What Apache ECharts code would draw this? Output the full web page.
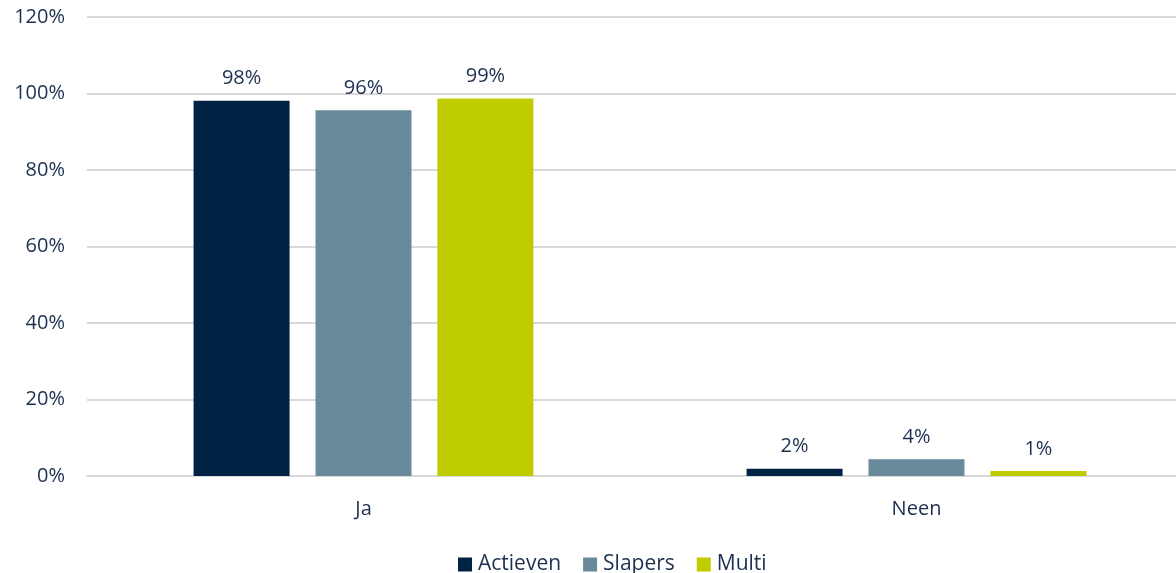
<!DOCTYPE html>
<html><head><meta charset="utf-8">
<script src="https://cdn.jsdelivr.net/npm/echarts@6/dist/echarts.min.js"></script>
<style>html,body{margin:0;padding:0;background:#fff;overflow:hidden}#c{width:1193px;height:573px}</style>
</head><body><div id="c"></div>
<script>
const categories = ['Ja', 'Neen'];
const seriesNames = ['Actieven', 'Slapers', 'Multi'];
const actieven = [98.1, 1.9];
const slapers = [95.6, 4.4];
const multi = [98.7, 1.3];
const yTicks = [0, 20, 40, 60, 80, 100, 120];

const colors = ['#002345', '#688a9a', '#bfcd00'];
const textColor = '#1c3050';
const font = 'Open Sans';
const data = [actieven, slapers, multi];

const chart = echarts.init(document.getElementById('c'));
chart.setOption({
  animation: false,
  textStyle: { fontFamily: font },
  grid: { left: 87, top: 17, right: 0, bottom: 97, containLabel: false },
  legend: {
    top: 549, left: 453,
    itemWidth: 14, itemHeight: 14, itemGap: 22,
    icon: 'rect',
    textStyle: { color: textColor, fontSize: 21, fontFamily: font, padding: [0, 0, 0, 1] },
    data: seriesNames
  },
  xAxis: {
    type: 'category', data: categories,
    axisLine: { show: true, lineStyle: { color: '#d9d9d9', width: 2 } },
    axisTick: { show: false },
    axisLabel: { color: textColor, fontSize: 20, margin: 23, fontFamily: font }
  },
  yAxis: {
    type: 'value', min: yTicks[0], max: yTicks[yTicks.length - 1], interval: 20,
    axisLine: { show: false }, axisTick: { show: false },
    splitLine: { lineStyle: { color: '#d9d9d9', width: 2 } },
    axisLabel: { color: textColor, fontSize: 20, margin: 22, fontFamily: font, formatter: v => v + '%' }
  },
  series: seriesNames.map((n, i) => ({
    name: n, type: 'bar', data: data[i],
    barWidth: 96, barGap: '27%',
    itemStyle: { color: colors[i] },
    label: {
      show: true, position: 'top', distance: 12,
      color: textColor, fontSize: 20, fontFamily: font,
      formatter: p => Math.round(p.value) + '%'
    }
  }))
});
</script></body></html>
